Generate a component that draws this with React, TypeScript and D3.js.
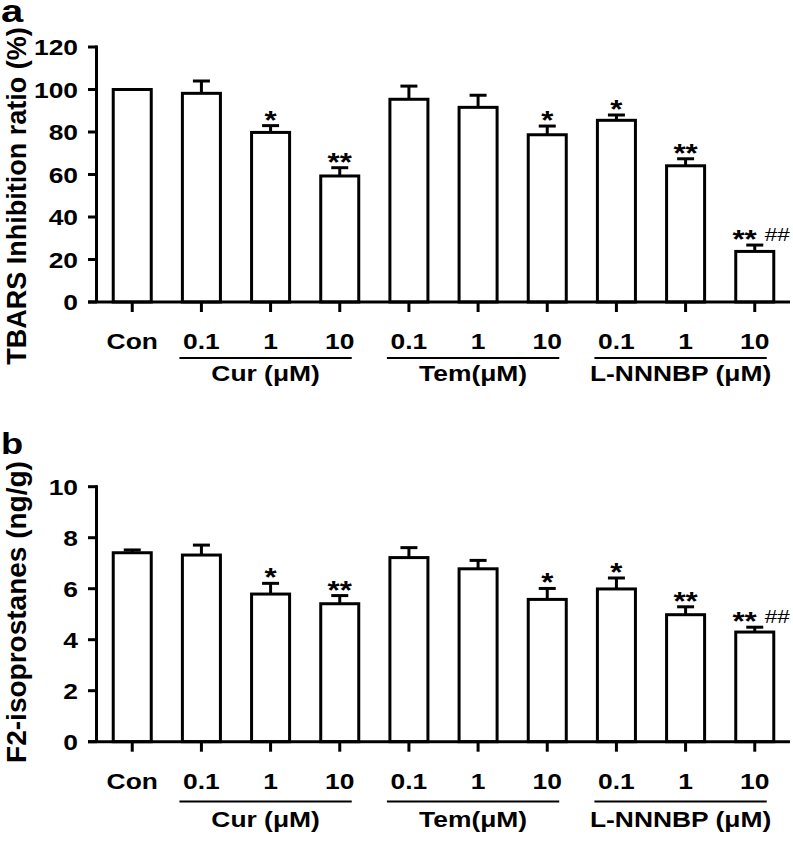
import React from "react";
import * as d3 from "d3";

const categories = ["Con", "0.1", "1", "10", "0.1", "1", "10", "0.1", "1", "10"];
const groups = ["Cur (μM)", "Tem(μM)", "L-NNNBP (μM)"];
const groupStart = [1, 4, 7];
const groupEnd = [3, 6, 9];

const tbarsMean = [100, 98.2, 79.8, 59.3, 95.4, 91.6, 78.7, 85.5, 64.1, 23.8];
const tbarsErr = [0, 5.8, 3.2, 3.9, 6.2, 5.7, 4.1, 2.5, 3.3, 3.0];
const tbarsTicks = [0, 20, 40, 60, 80, 100, 120];

const f2Mean = [7.41, 7.32, 5.79, 5.41, 7.22, 6.78, 5.58, 5.99, 4.98, 4.3];
const f2Err = [0.11, 0.39, 0.42, 0.32, 0.39, 0.33, 0.43, 0.43, 0.31, 0.19];
const f2Ticks = [0, 2, 4, 6, 8, 10];

const stars = ["", "", "*", "**", "", "", "*", "*", "**", "**"];
const hashes = ["", "", "", "", "", "", "", "", "", "##"];

const FONT = "'Liberation Sans', Arial, Helvetica, sans-serif";
const SX = 1.2;

function SText({ x, y, anchor = "middle", size = 22, weight = "bold", sx = SX, children }: any) {
  return (
    <text
      transform={`translate(${x},${y}) scale(${sx},1)`}
      textAnchor={anchor}
      fontSize={size}
      fontWeight={weight}
      fontFamily={FONT}
      fill="#000"
    >
      {children}
    </text>
  );
}

function Panel({ letter, letterSize, title, titleSize, titleY, mean, err, ticks, yMax, y0, y1, catY, lineY, groupY, letterY }: any) {
  const x = d3
    .scaleBand<number>()
    .domain(d3.range(categories.length))
    .range([97, 790])
    .paddingInner(0.407)
    .paddingOuter(0.213);
  const y = d3.scaleLinear().domain([0, yMax]).range([y0, y1]);
  const bw = x.bandwidth();
  const cx = (i: number) => (x(i) as number) + bw / 2;
  const sw = 3;
  return (
    <g>
      <SText x={1} y={letterY} anchor="start" size={letterSize} sx={1.25}>{letter}</SText>
      <text
        transform={`translate(26,${titleY}) rotate(-90)`}
        textAnchor="middle"
        fontSize={titleSize}
        fontWeight="bold"
        fontFamily={FONT}
      >
        {title}
      </text>
      {mean.map((m: number, i: number) => {
        const top = y(m + err[i]);
        return (
          <g key={i}>
            {err[i] > 0 && (
              <g stroke="#000" strokeWidth={sw}>
                <line x1={cx(i)} x2={cx(i)} y1={y(m)} y2={top} />
                <line x1={cx(i) - 8.5} x2={cx(i) + 8.5} y1={top} y2={top} />
              </g>
            )}
            <rect
              x={(x(i) as number) + sw / 2}
              y={y(m)}
              width={bw - sw}
              height={y(0) - y(m)}
              fill="#fff"
              stroke="#000"
              strokeWidth={sw}
            />
            {stars[i] && !hashes[i] && (
              <SText x={cx(i)} y={top + 3} size={26}>{stars[i]}</SText>
            )}
            {stars[i] && hashes[i] && (
              <g>
                <SText x={cx(i) + 2} y={top + 3} anchor="end" size={26}>{stars[i]}</SText>
                <SText x={cx(i) + 10} y={top - 4} anchor="start" size={18} weight="normal" sx={1.25}>{hashes[i]}</SText>
              </g>
            )}
          </g>
        );
      })}
      <line x1={96.5} x2={96.5} y1={y(yMax) - 1.5} y2={y(0)} stroke="#000" strokeWidth={sw} />
      {ticks.map((t: number) => (
        <g key={t}>
          <line x1={88} x2={97} y1={y(t)} y2={y(t)} stroke="#000" strokeWidth={sw} />
          <SText x={78} y={y(t) + 8} anchor="end">{String(t)}</SText>
        </g>
      ))}
      <line x1={88} x2={790} y1={y(0)} y2={y(0)} stroke="#000" strokeWidth={sw} />
      {categories.map((c, i) => (
        <g key={i}>
          <line x1={cx(i)} x2={cx(i)} y1={y(0)} y2={y(0) + 10} stroke="#000" strokeWidth={sw} />
          <SText x={cx(i)} y={catY}>{c}</SText>
        </g>
      ))}
      {groups.map((g, k) => {
        const a = cx(groupStart[k]) - 22;
        const b = cx(groupEnd[k]) + 12;
        return (
          <g key={g}>
            <line x1={a} x2={b} y1={lineY} y2={lineY} stroke="#000" strokeWidth={2} />
            <SText x={(a + b) / 2} y={groupY}>{g}</SText>
          </g>
        );
      })}
    </g>
  );
}

export default function App() {
  return (
    <svg
      width={793}
      height={843}
      style={{ position: "absolute", left: 0, top: 0, background: "#fff" }}
    >
      <rect width={793} height={843} fill="#fff" />
      <Panel
        letter="a"
        letterSize={32}
        title="TBARS Inhibition ratio (%)"
        titleSize={27}
        titleY={196}
        mean={tbarsMean}
        err={tbarsErr}
        ticks={tbarsTicks}
        yMax={120}
        y0={302}
        y1={47}
        catY={349}
        lineY={358}
        groupY={381}
        letterY={22}
      />
      <Panel
        letter="b"
        letterSize={29}
        title="F2-isoprostanes (ng/g)"
        titleSize={28}
        titleY={612}
        mean={f2Mean}
        err={f2Err}
        ticks={f2Ticks}
        yMax={10}
        y0={741.7}
        y1={486.7}
        catY={789}
        lineY={801.5}
        groupY={827}
        letterY={454}
      />
    </svg>
  );
}
